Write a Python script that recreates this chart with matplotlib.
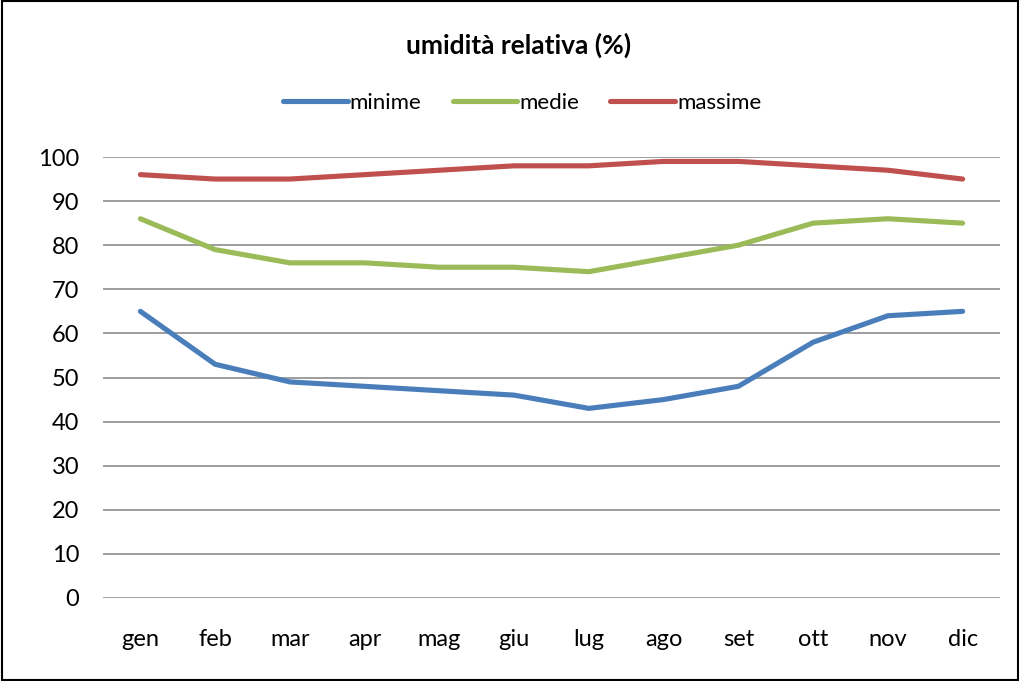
import matplotlib
matplotlib.use("Agg")
import matplotlib.pyplot as plt
from matplotlib.patches import Rectangle

months = ["gen", "feb", "mar", "apr", "mag", "giu", "lug", "ago", "set", "ott", "nov", "dic"]
minime = [65, 53, 49, 48, 47, 46, 43, 45, 48, 58, 64, 65]
medie = [86, 79, 76, 76, 75, 75, 74, 77, 80, 85, 86, 85]
massime = [96, 95, 95, 96, 97, 98, 98, 99, 99, 98, 97, 95]
yticks = [0, 10, 20, 30, 40, 50, 60, 70, 80, 90, 100]

plt.rcParams['font.family'] = ['Lato', 'DejaVu Sans']

fig = plt.figure(figsize=(10.2, 6.81), dpi=100)
ax = fig.add_axes([103/1020, 83/681, 897/1020, 441/681])

x = list(range(len(months)))
kw = dict(lw=3.7, solid_capstyle="round", solid_joinstyle="round")
ax.plot(x, minime, color="#4A7EBB", label="minime", **kw)
ax.plot(x, medie, color="#9BBB59", label="medie", **kw)
ax.plot(x, massime, color="#C0504D", label="massime", **kw)

ax.set_xlim(-0.5, len(months) - 0.5)
ax.set_ylim(0, 100)
ax.set_yticks(yticks)
ax.set_xticks(x)
ax.set_xticklabels(months)
ax.tick_params(axis="both", length=0, labelsize=17)
ax.tick_params(axis="y", pad=17)
ax.tick_params(axis="x", pad=22)
ax.yaxis.grid(True, color="#8C8C8C", lw=1.2)
ax.set_axisbelow(True)
for s in ax.spines.values():
    s.set_visible(False)

fig.text(0.508, 1 - 45/681, "umidità relativa (%)", ha="center", va="center",
         fontsize=19, fontweight="bold")
fig.legend(loc="center", bbox_to_anchor=(0.512, 1 - 103/681), ncol=3, frameon=False,
           fontsize=16, handlelength=2.9, handletextpad=0.1, columnspacing=1.4)

fig.add_artist(Rectangle((0.002, 0.002), 0.996, 0.996, transform=fig.transFigure,
                         fill=False, edgecolor="black", lw=1.5))

fig.savefig("out.png", dpi=100)
